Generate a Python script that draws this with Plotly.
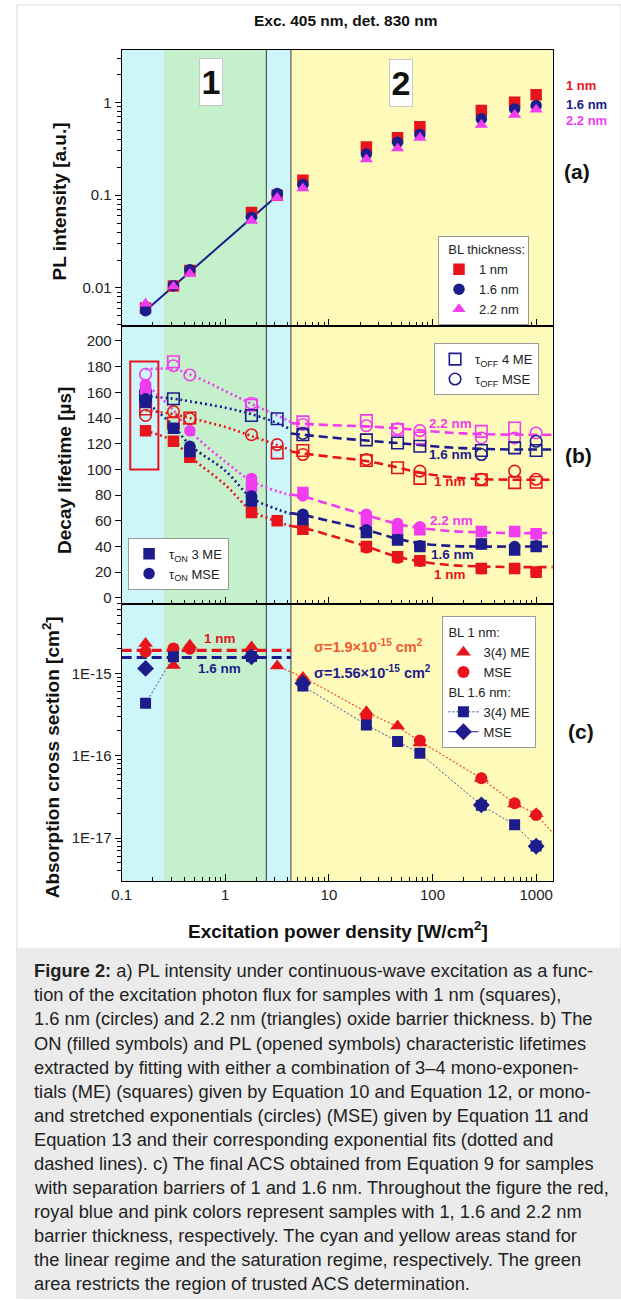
import plotly.graph_objects as go

W, H = 621, 1301
FONT = "Liberation Sans, Arial, sans-serif"

RED = "#e8141b"
NAVY = "#1c1c8c"
MAG = "#f03cf0"
RED_FIT = "#ef5a32"
CYAN = "#cdf6fb"
GREEN = "#c4f1cc"
YELLOW = "#fefab9"

# ---------------- data ----------------
x_pts = [0.17, 0.316, 0.455, 1.79, 3.17, 5.61, 23, 46, 75.5, 296, 620, 1000]

# (a) PL intensity
pl_1nm = [0.0061, 0.0105, 0.0154, 0.0652, 0.100, 0.145, 0.330, 0.415, 0.545, 0.815, 1.00, 1.21]
pl_16nm = [0.0057, 0.0106, 0.0157, 0.0577, 0.104, 0.130, 0.277, 0.372, 0.451, 0.664, 0.849, 0.922]
pl_22nm = [0.0068, 0.0104, 0.0142, 0.0530, 0.0935, 0.118, 0.243, 0.319, 0.415, 0.573, 0.733, 0.835]
pl_fit_x = [0.17, 3.28]
pl_fit_y = [0.0057, 0.1025]

# (b) decay lifetimes [us]
on3me_1nm = [130, 122, 109.5, 66.5, 60, 53.5, 40, 32, 29, 23, 23, 20]
onmse_1nm = [None, None, 110, 68, None, 55, 39, 31, 28.6, 22.7, 23, 20.1]
on3me_16nm = [152, 132, 114, 75.5, None, 61, 51, 45, 40, 42, 37.4, 40]
onmse_16nm = [155, None, 118, 79.4, None, 65.2, 53, 45.5, 40.7, 42, 40, 40.7]
on3me_22nm = [163, None, None, 87, None, 82, 60, 53, 53, 51.8, 51.8, 50]
onmse_22nm = [166, None, 130, 93, None, 79.4, 65.2, 58, 55.4, 51.5, 51.8, 49.7]
off4me_1nm = [147, 136, 140, None, 112.9, 114.7, 107, 101.3, 93, 92, 89.7, 90]
offmse_1nm = [142, 145, 139.4, 127, 119.3, 111.6, 107.7, None, 98.7, 92.3, 98.7, 92.3]
off4me_16nm = [157, 155, None, 142, 139.4, 127, 123, 120.6, 118, 114.7, 116.8, 114.7]
offmse_16nm = [160, None, None, None, None, 128, None, None, None, 111.6, None, 121.9]
off4me_22nm = [None, 183.8, None, 150, None, 137, 138, 131, 124.5, 129.6, 132.2, None]
offmse_22nm = [174, 180.7, 173.5, 151.5, None, 135, 134, 131.7, 130.2, 124.5, 124.5, 128.4]

# exponential fits
fit_lo_x = [0.17, 0.316, 0.455, 1.0, 1.79, 3.17, 4.3]
fit_lo_off_22 = [178, 178, 174, 161, 151, 142, 137]
fit_lo_off_16 = [157, 155, 153, 148, 143, 136, 131]
fit_lo_off_1 = [146, 143, 140, 133, 126, 119, 115]
fit_lo_on_22 = [167, 146, 130, 106, 91, 83, 80]
fit_lo_on_16 = [153, 134, 119, 99, 78, 69, 65.5]
fit_lo_on_1 = [130, 122, 110, 88, 68, 59.5, 56]

fit_hi_x = [4.3, 5.61, 10, 23, 46, 75.5, 150, 296, 620, 1449]
fit_hi_off_22 = [136, 135.5, 134.5, 133.5, 132, 130.5, 128.5, 127.5, 127, 127]
fit_hi_off_16 = [128, 127, 125, 122.5, 120.5, 119, 117, 116, 115.5, 115.5]
fit_hi_off_1 = [114, 112.5, 110, 106.5, 101.5, 97.5, 94, 92.5, 92, 92]
fit_hi_on_22 = [80.5, 79, 73, 64.5, 57.5, 54.5, 52, 51, 50.5, 50.5]
fit_hi_on_16 = [66, 64.5, 60, 53, 46, 42.5, 40.5, 40, 40, 40]
fit_hi_on_1 = [56, 54.5, 49, 40, 32, 28.5, 25.5, 24.5, 24, 24]

# (c) absorption cross section [cm^2]
acs_me_1nm = [2.31e-15, 1.25e-15, 2.2e-15, 2.1e-15, 1.23e-15, 8.95e-16, 3.43e-16, 2.3e-16, 1.43e-16, 5.3e-17, 2.6e-17, 1.97e-17]
acs_mse_1nm = [1.83e-15, 2.01e-15, 2.0e-15, None, None, 8.2e-16, 3.0e-16, None, 1.53e-16, 5.33e-17, 2.65e-17, 1.9e-17]
acs_me_16nm = [4.33e-16, 1.59e-15, None, 1.6e-15, None, 7.03e-16, 2.37e-16, 1.49e-16, 1.07e-16, 2.5e-17, 1.45e-17, 8.0e-18]
acs_mse_16nm = [1.15e-15, None, None, 1.59e-15, None, 7.6e-16, None, None, None, 2.53e-17, None, 7.94e-18]
acs_fit1_x = [3.17, 5.61, 23, 46, 75.5, 296, 620, 1000, 1449]
acs_fit1_y = [1.23e-15, 9.0e-16, 3.4e-16, 2.25e-16, 1.5e-16, 5.3e-17, 2.65e-17, 1.95e-17, 1.15e-17]
sigma_x = [0.1, 4.3]
sigma_1nm = 1.9e-15
sigma_16nm = 1.56e-15

# regions (excitation power density)
x_min, x_max = 0.1, 1449
cyan_end, green_end, cyan2_end = 0.256, 2.49, 4.30

# x tick labels
xtick_vals = [0.1, 1, 10, 100, 1000]
xtick_text = ["0.1", "1", "10", "100", "1000"]

# ---------------- helpers ----------------
def PX(x):
    return x / W

def PY(y):
    return 1 - y / H

X0, X1 = 113.5, 551.7
A_TOP, A_BOT = 50, 327
B_TOP, B_BOT = 327, 605
C_TOP, C_BOT = 605, 883

fig = go.Figure()

# ---- panel (a) traces (xaxis3/yaxis3) ----
fig.add_trace(go.Scatter(x=pl_fit_x, y=pl_fit_y, mode="lines", line=dict(color=NAVY, width=2),
                         xaxis="x3", yaxis="y3", showlegend=False, hoverinfo="skip"))
for ys, col, sym, name in [(pl_1nm, RED, "square", "1 nm"),
                           (pl_16nm, NAVY, "circle", "1.6 nm"),
                           (pl_22nm, MAG, "triangle-up", "2.2 nm")]:
    fig.add_trace(go.Scatter(x=x_pts, y=ys, mode="markers", name=name,
                             marker=dict(color=col, symbol=sym, size=11.5, line=dict(width=0)),
                             xaxis="x3", yaxis="y3", legend="legend"))

# ---- panel (b) traces (xaxis2/yaxis2) ----
DOT = "2px,3px"
DASH = "9px,5px"
for ys, col in [(fit_lo_off_22, MAG), (fit_lo_off_16, NAVY), (fit_lo_off_1, RED),
                (fit_lo_on_22, MAG), (fit_lo_on_16, NAVY), (fit_lo_on_1, RED)]:
    fig.add_trace(go.Scatter(x=fit_lo_x, y=ys, mode="lines", line=dict(color=col, width=2.6, dash=DOT),
                             line_shape="spline", xaxis="x2", yaxis="y2", showlegend=False, hoverinfo="skip"))
for ys, col in [(fit_hi_off_22, MAG), (fit_hi_off_16, NAVY), (fit_hi_off_1, RED),
                (fit_hi_on_22, MAG), (fit_hi_on_16, NAVY), (fit_hi_on_1, RED)]:
    fig.add_trace(go.Scatter(x=fit_hi_x, y=ys, mode="lines", line=dict(color=col, width=2.6, dash=DASH),
                             line_shape="spline", xaxis="x2", yaxis="y2", showlegend=False, hoverinfo="skip"))

open_series = [(off4me_1nm, RED, "square-open", None), (offmse_1nm, RED, "circle-open", None),
               (off4me_22nm, MAG, "square-open", None), (offmse_22nm, MAG, "circle-open", None),
               (off4me_16nm, NAVY, "square-open", "τ<sub>OFF</sub> 4 ME"),
               (offmse_16nm, NAVY, "circle-open", "τ<sub>OFF</sub> MSE")]
for ys, col, sym, name in open_series:
    fig.add_trace(go.Scatter(x=x_pts, y=ys, mode="markers", name=name or "",
                             marker=dict(color=col, symbol=sym, size=11.5, line=dict(width=1.6, color=col)),
                             xaxis="x2", yaxis="y2", showlegend=name is not None, legend="legend2"))

filled_series = [(on3me_1nm, RED, "square", None), (onmse_1nm, RED, "circle", None),
                 (on3me_22nm, MAG, "square", None), (onmse_22nm, MAG, "circle", None),
                 (on3me_16nm, NAVY, "square", "τ<sub>ON</sub> 3 ME"),
                 (onmse_16nm, NAVY, "circle", "τ<sub>ON</sub> MSE")]
for ys, col, sym, name in filled_series:
    fig.add_trace(go.Scatter(x=x_pts, y=ys, mode="markers", name=name or "",
                             marker=dict(color=col, symbol=sym, size=11.5, line=dict(width=0)),
                             xaxis="x2", yaxis="y2", showlegend=name is not None, legend="legend3"))

# ---- panel (c) traces (xaxis/yaxis) ----
fig.add_trace(go.Scatter(x=sigma_x, y=[sigma_1nm] * 2, mode="lines", line=dict(color=RED, width=3.2, dash="10px,5px"),
                         showlegend=False, hoverinfo="skip"))
fig.add_trace(go.Scatter(x=sigma_x, y=[sigma_16nm] * 2, mode="lines", line=dict(color=NAVY, width=3.2, dash="10px,5px"),
                         showlegend=False, hoverinfo="skip"))
fig.add_trace(go.Scatter(x=acs_fit1_x, y=acs_fit1_y, mode="lines", line=dict(color=RED_FIT, width=1.3, dash="2px,2px"),
                         showlegend=False, hoverinfo="skip"))
fig.add_trace(go.Scatter(x=x_pts, y=acs_me_1nm, mode="markers", name="3(4) ME", legend="legend4",
                         legendgroup="bl1", legendgrouptitle=dict(text="BL 1 nm:"),
                         marker=dict(color=RED, symbol="triangle-up", size=13, line=dict(width=0))))
fig.add_trace(go.Scatter(x=x_pts, y=acs_mse_1nm, mode="markers", name="MSE", legend="legend4",
                         legendgroup="bl1",
                         marker=dict(color=RED, symbol="circle", size=12, line=dict(width=0))))
fig.add_trace(go.Scatter(x=x_pts, y=acs_me_16nm, mode="lines+markers", name="3(4) ME", legend="legend4",
                         legendgroup="bl16", legendgrouptitle=dict(text="BL 1.6 nm:"),
                         line=dict(color="#4a4aa0", width=1, dash="2px,2px"),
                         marker=dict(color=NAVY, symbol="square", size=11, line=dict(width=0))))
fig.add_trace(go.Scatter(x=x_pts, y=acs_mse_16nm, mode="lines+markers", name="MSE", legend="legend4",
                         legendgroup="bl16", line=dict(color=NAVY, width=1),
                         marker=dict(color=NAVY, symbol="diamond", size=13, line=dict(width=0))))

# ---------------- shapes ----------------
shapes = []
shapes.append(dict(type="rect", xref="paper", yref="paper", x0=PX(7), x1=PX(621), y0=PY(1301), y1=PY(5),
                   line=dict(color="#d8d8d8", width=1), fillcolor="white", layer="below"))
shapes.append(dict(type="rect", xref="paper", yref="paper", x0=PX(7), x1=PX(621), y0=PY(1301), y1=PY(950),
                   line=dict(width=0), fillcolor="#ebebeb", layer="below"))
for xa, xb, col in [(x_min, cyan_end, CYAN), (cyan_end, green_end, GREEN),
                    (green_end, cyan2_end, CYAN), (cyan2_end, x_max, YELLOW)]:
    shapes.append(dict(type="rect", xref="x", yref="paper", x0=xa, x1=xb, y0=PY(C_BOT), y1=PY(A_TOP),
                       line=dict(width=0), fillcolor=col, layer="below"))
for xv in [green_end, cyan2_end]:
    shapes.append(dict(type="line", xref="x", yref="paper", x0=xv, x1=xv, y0=PY(C_BOT), y1=PY(A_TOP),
                       line=dict(color="#3a3a3a", width=1), layer="below"))
shapes.append(dict(type="rect", xref="x2", yref="y2", x0=0.121, x1=0.226, y0=100, y1=184,
                   line=dict(color=RED, width=2), fillcolor="rgba(0,0,0,0)", layer="above"))

# ---------------- annotations ----------------
ann = []
def txt(x, y, text, size=12, color="#111", bold=False, xanchor="center", yanchor="middle", angle=0, **kw):
    t = f"<b>{text}</b>" if bold else text
    ann.append(dict(x=PX(x), y=PY(y), xref="paper", yref="paper", text=t, showarrow=False,
                    xanchor=xanchor, yanchor=yanchor, textangle=angle,
                    font=dict(family=FONT, size=size, color=color), **kw))

txt(341.6, 20.7, "Exc. 405 nm, det. 830 nm", size=15.5, bold=True)
txt(50.7, 202, "PL intensity [a.u.]", size=19, bold=True, angle=-90)
txt(55.4, 471.5, "Decay lifetime [µs]", size=19, bold=True, angle=-90)
txt(41.7, 759, "Absorption cross section [cm<sup>2</sup>]", size=19, bold=True, angle=-90)
txt(333, 931.7, "Excitation power density [W/cm<sup>2</sup>]", size=19, bold=True)

txt(576.7, 172, "(a)", size=21, bold=True)
txt(578, 457, "(b)", size=21, bold=True)
txt(580, 733, "(c)", size=21, bold=True)

txt(204, 82, "1", size=34, bold=True, bgcolor="white", bordercolor="#c8c8c8", borderwidth=1, width=20, height=44)
txt(397.4, 83.5, "2", size=34, bold=True, bgcolor="white", bordercolor="#c8c8c8", borderwidth=1, width=20, height=44)

txt(563, 86, "1 nm", size=13, bold=True, color=RED, xanchor="left")
txt(563, 104.3, "1.6 nm", size=13, bold=True, color=NAVY, xanchor="left")
txt(563, 120.7, "2.2 nm", size=13, bold=True, color=MAG, xanchor="left")

txt(447.5, 424.3, "2.2 nm", size=13.5, bold=True, color=MAG)
txt(447.5, 455.7, "1.6 nm", size=13.5, bold=True, color=NAVY)
txt(447.7, 482.3, "1 nm", size=13.5, bold=True, color=RED)
txt(448.3, 521.7, "2.2 nm", size=13.5, bold=True, color=MAG)
txt(450, 555.7, "1.6 nm", size=13.5, bold=True, color=NAVY)
txt(446.7, 575.7, "1 nm", size=13.5, bold=True, color=RED)

txt(213.3, 640, "1 nm", size=13.5, bold=True, color=RED)
txt(213.3, 670, "1.6 nm", size=13.5, bold=True, color=NAVY)
txt(306.7, 647.7, "σ=1.9×10<sup>-15</sup> cm<sup>2</sup>", size=14.5, bold=True, color=RED_FIT, xanchor="left")
txt(306.7, 673.3, "σ=1.56×10<sup>-15</sup> cm<sup>2</sup>", size=14.5, bold=True, color=NAVY, xanchor="left")

caption = [
    "<b>Figure 2:</b> a) PL intensity under continuous-wave excitation as a func-",
    "tion of the excitation photon flux for samples with 1 nm (squares),",
    "1.6 nm (circles) and 2.2 nm (triangles) oxide barrier thickness. b) The",
    "ON (filled symbols) and PL (opened symbols) characteristic lifetimes",
    "extracted by fitting with either a combination of 3–4 mono-exponen-",
    "tials (ME) (squares) given by Equation 10 and Equation 12, or mono-",
    "and stretched exponentials (circles) (MSE) given by Equation 11 and",
    "Equation 13 and their corresponding exponential fits (dotted and",
    "dashed lines). c) The final ACS obtained from Equation 9 for samples",
    "with separation barriers of 1 and 1.6 nm. Throughout the figure the red,",
    "royal blue and pink colors represent samples with 1, 1.6 and 2.2 nm",
    "barrier thickness, respectively. The cyan and yellow areas stand for",
    "the linear regime and the saturation regime, respectively. The green",
    "area restricts the region of trusted ACS determination.",
]
for i, line in enumerate(caption):
    txt(22, 973 + i * 24.15, line, size=18.3, color="#222", xanchor="left")

# ---------------- axes ----------------
minor_x = [m * 10 ** e for e in range(-1, 4) for m in range(2, 10)]
TICKFONT = dict(family=FONT, size=15, color="#222")

def xax(domain_anchor, labels):
    return dict(type="log", range=[-1, 3.161], domain=[PX(X0), PX(X1)], anchor=domain_anchor,
                showline=True, linecolor="black", linewidth=1, mirror=True,
                ticks="inside", ticklen=7, tickcolor="black",
                tickmode="array", tickvals=xtick_vals, ticktext=xtick_text,
                showticklabels=labels, showgrid=False, zeroline=False,
                minor=dict(ticks="inside", ticklen=4, tickcolor="black", tickmode="array", tickvals=minor_x, showgrid=False),
                tickfont=TICKFONT)

minor_a = [m * 10 ** e for e in range(-3, 1) for m in range(2, 10)]
minor_c = [m * 10 ** e for e in range(-18, -14) for m in range(2, 10)]

LEGFONT = dict(family=FONT, size=13, color="#222")
layout = dict(
    width=W, height=H, margin=dict(l=0, r=0, t=0, b=0),
    paper_bgcolor="white", plot_bgcolor="rgba(0,0,0,0)",
    font=dict(family=FONT, size=12, color="#222"),
    xaxis=xax("y", True),
    xaxis2=xax("y2", False),
    xaxis3=xax("y3", False),
    yaxis=dict(type="log", range=[-17.521, -14.152], domain=[PY(C_BOT), PY(C_TOP)], anchor="x",
               showline=True, linecolor="black", linewidth=1, mirror=True,
               ticks="outside", ticklen=6, tickcolor="black",
               tickmode="array", tickvals=[1e-17, 1e-16, 1e-15], ticktext=["1E-17", "1E-16", "1E-15"],
               minor=dict(ticks="outside", ticklen=4, tickcolor="black", tickmode="array", tickvals=minor_c),
               showgrid=False, zeroline=False, tickfont=TICKFONT),
    yaxis2=dict(range=[-4.4, 211.4], domain=[PY(B_BOT), PY(B_TOP)], anchor="x2",
                showline=True, linecolor="black", linewidth=1, mirror=True,
                ticks="outside", ticklen=6, tickcolor="black", dtick=20, tick0=0,
                showgrid=False, zeroline=False, tickfont=TICKFONT),
    yaxis3=dict(type="log", range=[-2.412, 0.565], domain=[PY(A_BOT), PY(A_TOP)], anchor="x3",
                showline=True, linecolor="black", linewidth=1, mirror=True,
                ticks="outside", ticklen=6, tickcolor="black",
                tickmode="array", tickvals=[0.01, 0.1, 1], ticktext=["0.01", "0.1", "1"],
                minor=dict(ticks="outside", ticklen=4, tickcolor="black", tickmode="array", tickvals=minor_a),
                showgrid=False, zeroline=False, tickfont=TICKFONT),
    legend=dict(x=PX(435), y=PY(237), xanchor="left", yanchor="top", bgcolor="white",
                bordercolor="#9a9a9a", borderwidth=1, font=LEGFONT,
                title=dict(text="  BL thickness:", font=LEGFONT),
                tracegroupgap=0, itemwidth=30),
    legend2=dict(x=PX(431), y=PY(344), xanchor="left", yanchor="top", bgcolor="white",
                 bordercolor="#9a9a9a", borderwidth=1, font=LEGFONT,
                 tracegroupgap=0, itemwidth=30),
    legend3=dict(x=PX(120), y=PY(539), xanchor="left", yanchor="top", bgcolor="white",
                 bordercolor="#9a9a9a", borderwidth=1, font=LEGFONT,
                 tracegroupgap=0, itemwidth=30),
    legend4=dict(x=PX(439.5), y=PY(617.7), xanchor="left", yanchor="top", bgcolor="white",
                 bordercolor="#9a9a9a", borderwidth=1, font=LEGFONT,
                 grouptitlefont=LEGFONT,
                 tracegroupgap=0, itemwidth=30, traceorder="grouped"),
    shapes=shapes,
    annotations=ann,
)
fig.update_layout(**layout)
fig.write_html("out.html", post_script="document.body.style.margin='0px';")
